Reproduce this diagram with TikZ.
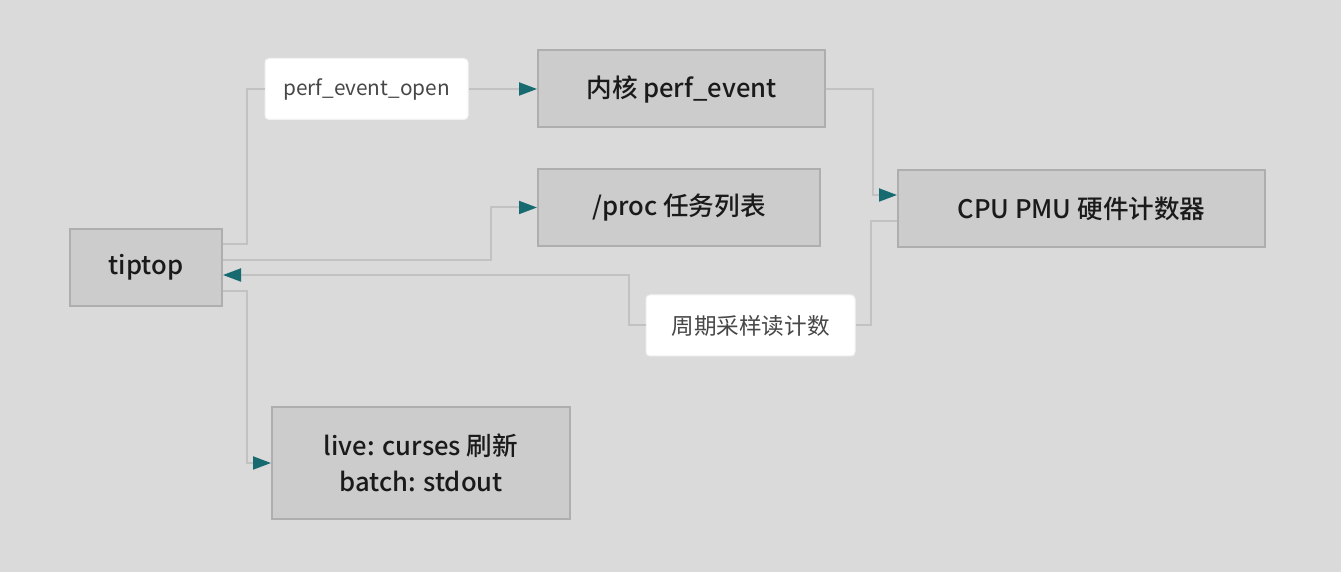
\documentclass[tikz,border=0pt]{standalone}
\usepackage{fontspec}
\setmainfont{Noto Sans CJK SC}[BoldFont={Noto Sans CJK SC Medium}]
\usetikzlibrary{arrows.meta}
\definecolor{bgcol}{HTML}{DADADA}
\definecolor{boxcol}{HTML}{CCCCCC}
\definecolor{boxline}{HTML}{AEAEAE}
\definecolor{linkcol}{HTML}{C2C2C2}
\definecolor{tipcol}{HTML}{176B70}
\definecolor{txtcol}{HTML}{1A1A1A}
\definecolor{lbltxt}{HTML}{474747}
\begin{document}
\begin{tikzpicture}[x=0.5pt,y=-0.5pt,
  block/.style={draw=boxline,line width=1pt,fill=boxcol,text=txtcol,font=\fontsize{12.8}{18}\selectfont\bfseries,align=center,inner sep=0pt},
  tag/.style={draw=white!95!black,line width=0.5pt,fill=white,rounded corners=2pt,text=lbltxt,font=\fontsize{10.4}{12}\selectfont,inner sep=0pt,minimum height=30.5pt},
  link/.style={draw=linkcol,line width=1pt},
  flow/.style={link,-{Triangle[length=9pt,width=6.5pt,color=tipcol]}}]
  \useasboundingbox[fill=bgcol] (0,0) rectangle (1341,572);

  \node[block,minimum width=76pt,minimum height=38.5pt] (tiptop) at (146,267.5) {tiptop};
  \node[block,minimum width=143.5pt,minimum height=38.5pt] (kernel) at (681.5,89) {内核 perf\_event};
  \node[block,minimum width=141pt,minimum height=38.5pt] (proc) at (679,207.5) {/proc 任务列表};
  \node[block,minimum width=183.5pt,minimum height=38.5pt] (cpu) at (1081.5,208.5) {CPU PMU 硬件计数器};
  \node[block,minimum width=149pt,minimum height=56pt] (live) at (421,463) {live: curses 刷新\\batch: stdout};

  \node[tag,minimum width=101.5pt] (popen) at (366.5,89) {perf\_event\_open};
  \node[tag,minimum width=104.5pt,font=\fontsize{11.3}{13}\selectfont] (pread) at (750.5,325.5) {周期采样读计数};

  \draw[link] ([yshift=11.75pt]tiptop.east) -- ++(24,0) |- (popen.west);
  \draw[flow] (popen) -- (kernel);
  \draw[flow] ([yshift=3.75pt]tiptop.east) -- ++(268,0) |- (proc.west);
  \draw[flow] (kernel.east) -- ++(47,0) |- ([yshift=6.75pt]cpu.west);
  \draw[link] ([yshift=-6.25pt]cpu.west) -- ++(-26,0) |- (pread.east);
  \draw[flow] (pread.west) -- ++(-17,0) |- ([yshift=-3.75pt]tiptop.east);
  \draw[flow] ([yshift=-11.75pt]tiptop.east) -- ++(24,0) |- (live.west);
\end{tikzpicture}
\end{document}
